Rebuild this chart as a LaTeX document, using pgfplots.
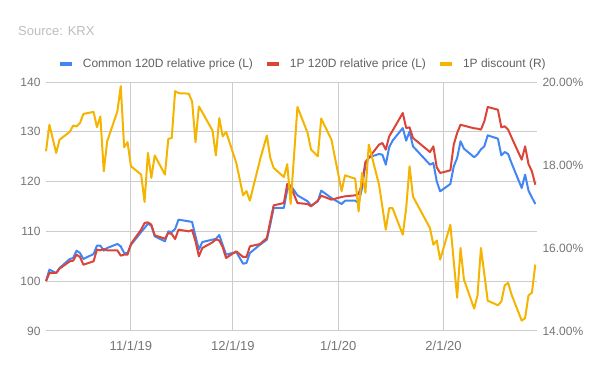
\documentclass[border=0pt]{standalone}
\usepackage{fontspec}
\setmainfont{Liberation Sans}
\usepackage{pgfplots}
\usepackage{pgfplotstable}
\pgfplotsset{compat=1.18}
\definecolor{cblue}{HTML}{4285F4}
\definecolor{cred}{HTML}{DB4437}
\definecolor{cyel}{HTML}{F4B400}
\definecolor{gridc}{HTML}{CCCCCC}
\definecolor{tickc}{HTML}{757575}
\definecolor{legc}{HTML}{616161}
\definecolor{titc}{HTML}{BDBDBD}

% d = days since 11/1/19
\pgfplotstableread{
d c p
-25 100.00 100.00
-24 102.32 101.65
-22 101.65 101.65
-21 102.65 102.52
-18 104.46 103.99
-17 104.66 104.12
-16 106.13 105.33
-15 105.66 104.86
-14 104.46 103.32
-11 105.46 103.99
-10 107.14 106.33
-9 107.14 106.20
-8 106.13 106.47
-7 106.67 106.20
-4 107.47 106.20
-3 107.00 105.13
-2 105.66 105.33
-1 105.66 105.33
0 107.30 107.50
3 109.88 110.35
4 110.68 111.69
5 111.55 111.82
6 111.15 111.35
7 109.01 109.21
10 108.01 108.54
11 110.01 109.68
12 109.88 109.48
13 110.48 108.47
14 112.36 110.35
17 112.02 110.01
18 111.89 110.28
19 109.01 108.01
20 106.33 104.99
21 107.87 106.67
24 108.34 107.80
25 108.50 108.40
26 109.27 108.17
27 107.27 106.84
28 105.33 104.66
31 105.86 106.00
33 103.52 104.86
34 103.65 104.86
35 105.66 107.00
38 107.34 107.47
40 108.34 108.67
41 111.35 112.02
42 114.70 115.23
45 114.70 115.70
46 118.38 119.52
47 119.25 119.05
49 117.24 115.70
52 116.04 115.50
53 115.17 115.03
55 116.04 116.17
56 118.18 117.18
59 116.71 116.37
62 115.50 116.91
63 116.17 117.04
66 116.17 117.24
67 115.70 117.51
68 118.71 119.52
69 123.40 123.94
70 124.87 124.74
73 125.54 127.42
74 125.41 127.75
75 123.40 126.41
76 126.90 129.09
77 128.22 130.23
80 130.76 133.78
81 128.22 130.76
82 130.09 130.90
83 127.08 128.76
88 123.40 125.94
89 123.73 127.08
90 120.05 122.86
91 118.05 121.73
94 119.52 122.26
95 123.07 127.42
96 124.74 129.76
97 128.09 131.43
98 126.61 131.23
101 124.90 130.70
102 125.48 130.63
103 126.48 130.43
104 127.08 132.10
105 129.29 134.98
108 128.62 134.44
109 125.27 130.90
110 125.94 131.10
111 125.54 130.43
112 123.73 128.89
115 118.71 124.40
116 121.39 127.08
117 118.18 123.53
118 116.84 122.06
119 115.50 119.38
}\prices

\pgfplotstableread{
d r
-25 18.33
-24 18.97
-22 18.29
-21 18.61
-18 18.80
-17 18.95
-16 18.93
-15 19.01
-14 19.23
-11 19.28
-10 18.91
-9 19.17
-8 17.85
-7 18.57
-4 19.29
-3 19.90
-2 18.43
-1 18.55
0 17.97
3 17.77
4 17.11
5 18.29
6 17.69
7 18.23
10 17.77
11 18.63
12 18.65
13 19.78
14 19.73
17 19.72
18 19.53
19 18.55
20 19.41
21 19.27
24 18.83
25 18.23
26 19.13
27 18.69
28 18.80
31 18.05
33 17.27
34 17.37
35 17.14
38 18.13
40 18.71
41 18.17
42 17.93
45 17.71
46 18.02
47 17.06
49 19.40
52 18.77
53 18.37
55 18.21
56 19.12
59 18.61
62 17.37
63 17.75
66 17.67
67 16.88
68 17.81
69 17.33
70 18.49
73 17.53
74 16.99
75 16.44
76 16.96
77 16.96
80 16.32
81 16.96
82 17.97
83 17.24
88 16.48
89 16.08
90 16.18
91 15.72
94 16.56
95 15.68
96 14.80
97 16.00
98 15.24
101 14.54
102 14.86
103 16.00
104 15.37
105 14.73
108 14.62
109 14.71
110 15.10
111 15.16
112 14.88
115 14.25
116 14.31
117 14.86
118 14.92
119 15.60
}\disc

\begin{document}
\begin{tikzpicture}[x=1pt,y=1pt]
\useasboundingbox (0,0) rectangle (600,371);
\node[anchor=west, inner sep=0pt, font=\fontsize{13}{15}\selectfont, text=titc] at (18,340) {Source: KRX};
\begin{axis}[
  at={(46pt,40pt)}, anchor=south west,
  scale only axis, width=491pt, height=249pt,
  xmin=-25, xmax=119.5, ymin=90, ymax=140,
  xtick={0,30,61,92},
  xticklabels={11/1/19,12/1/19,1/1/20,2/1/20},
  ytick={90,100,110,120,130,140},
  xmajorgrids, ymajorgrids,
  major grid style={gridc, line width=1pt},
  axis line style={draw=none},
  major tick length=0pt,
  /pgf/number format/assume math mode=true,
  xticklabel style={font=\fontsize{13}{15}\selectfont, text=tickc, yshift=-7pt},
  yticklabel style={font=\fontsize{12}{14}\selectfont, text=tickc, xshift=-2pt},
  clip=false,
]
\addplot[cblue, line width=2pt, line join=round] table[x=d, y=c]{\prices};
\addplot[cred, line width=2pt, line join=round] table[x=d, y=p]{\prices};
\end{axis}
\begin{axis}[
  at={(46pt,40pt)}, anchor=south west,
  scale only axis, width=491pt, height=249pt,
  xmin=-25, xmax=119.5, ymin=14, ymax=20,
  axis y line*=right, axis x line=none,
  ytick={14,16,18,20},
  yticklabels={14.00\%,16.00\%,18.00\%,20.00\%},
  axis line style={draw=none},
  major tick length=0pt,
  yticklabel style={font=\fontsize{12}{14}\selectfont, text=tickc, xshift=2pt},
  legend columns=3,
  legend style={at={(0.521,1.072)}, anchor=center, draw=none, fill=none,
    inner sep=0pt, font=\fontsize{12}{14}\selectfont, text=legc,
    /tikz/every odd column/.append style={column sep=9pt},
    /tikz/every even column/.append style={column sep=12pt},
    nodes={inner sep=0pt}},
  legend image code/.code={\draw[#1, line width=4pt, line cap=butt] (0pt,0pt) -- (12pt,0pt);},
  clip=false,
]
\addlegendimage{cblue, line width=2pt}
\addlegendentry{Common 120D relative price (L)}
\addlegendimage{cred, line width=2pt}
\addlegendentry{1P 120D relative price (L)}
\addplot[cyel, line width=2pt, line join=round] table[x=d, y=r]{\disc};
\addlegendentry{1P discount (R)}
\end{axis}
\end{tikzpicture}
\end{document}
